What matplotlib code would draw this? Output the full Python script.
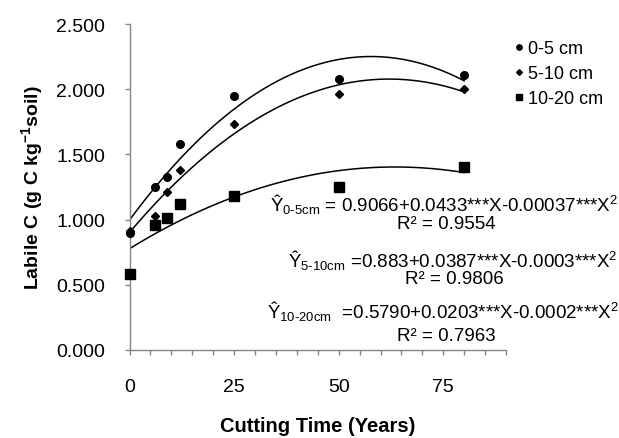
import matplotlib
matplotlib.use("Agg")
import matplotlib.pyplot as plt
import numpy as np
from matplotlib.ticker import MultipleLocator, FormatStrFormatter

plt.rcParams['font.family'] = ['Liberation Sans', 'DejaVu Sans']
plt.rcParams['mathtext.fontset'] = 'custom'
plt.rcParams['mathtext.rm'] = 'Liberation Sans'
plt.rcParams['mathtext.it'] = 'Liberation Sans'
plt.rcParams['mathtext.bf'] = 'Liberation Sans:bold'

# cutting time (years)
years = [0, 6, 9, 12, 25, 50, 80]
# labile C per depth
c_0_5 = [0.90, 1.25, 1.33, 1.58, 1.95, 2.08, 2.11]
c_5_10 = [0.91, 1.03, 1.21, 1.38, 1.73, 1.96, 2.00]
c_10_20 = [0.585, 0.96, 1.01, 1.12, 1.18, 1.25, 1.405]

labels = ['0-5 cm', '5-10 cm', '10-20 cm']
eqs = [r"Ŷ$_{\text{0-5cm}}$ = 0.9066+0.0433***X-0.00037***X$^{2}$",
       r"Ŷ$_{\text{5-10cm}}$ =0.883+0.0387***X-0.0003***X$^{2}$",
       r"Ŷ$_{\text{10-20cm}}$  =0.5790+0.0203***X-0.0002***X$^{2}$"]
r2 = ['R² = 0.9554', 'R² = 0.9806', 'R² = 0.7963']

W, H = 619, 439
fig = plt.figure(figsize=(W / 100, H / 100), dpi=100)
ax = fig.add_axes([129.5 / W, 1 - 351 / H, (506 - 129.5) / W, (351 - 25) / H])

series = [(c_0_5, 'o', 5.5), (c_5_10, 'D', 4.2), (c_10_20, 's', 7)]
xs = np.linspace(0, 80, 200)
for (vals, mk, ms), lab in zip(series, labels):
    ax.plot(years, vals, linestyle='none', marker=mk, ms=ms, color='black',
            label=lab, clip_on=False, zorder=3)
    p = np.polyfit(years, vals, 2)
    ax.plot(xs, np.polyval(p, xs), color='black', lw=1.1, zorder=2)

ax.set_xlim(0, 90)
ax.set_ylim(0, 2.5)
ax.xaxis.set_major_locator(MultipleLocator(25))
ax.xaxis.set_minor_locator(MultipleLocator(5))
ax.yaxis.set_major_locator(MultipleLocator(0.5))
ax.yaxis.set_major_formatter(FormatStrFormatter('%.3f'))

for s in ['top', 'right']:
    ax.spines[s].set_visible(False)
for s in ['left', 'bottom']:
    ax.spines[s].set_color('#868686')
    ax.spines[s].set_linewidth(1.0)
ax.tick_params(axis='x', which='both', direction='out', length=3.5, width=1.0,
               color='#868686', labelsize=14, pad=17)
ax.tick_params(axis='y', direction='out', length=3.5, width=1.0,
               color='#868686', labelsize=14, pad=14)

ax.set_xlabel('Cutting Time (Years)', fontsize=14.5, fontweight='bold', labelpad=15)
ax.set_ylabel(r'Labile C (g C kg$^{\mathbf{-1}}$soil)', fontsize=14, fontweight='bold',
              labelpad=8)

leg = ax.legend(loc='upper left', bbox_to_anchor=(505 / W, 1 - 32 / H),
                bbox_transform=fig.transFigure, frameon=False, fontsize=13,
                handlelength=0.6, handletextpad=0.2, labelspacing=0.45,
                markerscale=0.7, borderpad=0)

blocks = [(444, 211, 446, 229), (453, 267, 454, 284), (443, 318, 446, 341)]
for (ex, ey, rx, ry), e, r in zip(blocks, eqs, r2):
    fig.text(ex / W, 1 - ey / H, e, fontsize=13.5, ha='center', va='baseline')
    fig.text(rx / W, 1 - ry / H, r, fontsize=13.5, ha='center', va='baseline')

fig.savefig('out.png', dpi=100)
